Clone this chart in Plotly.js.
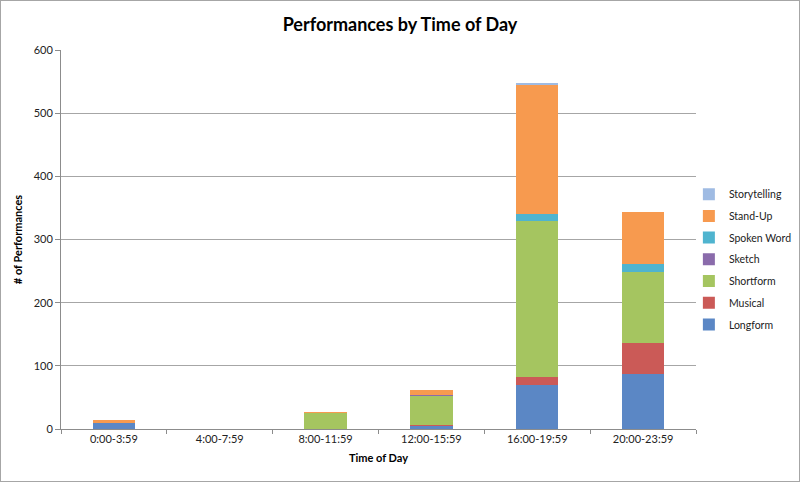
<!DOCTYPE html>
<html>
<head>
<meta charset="utf-8">
<script src="https://cdn.plot.ly/plotly-3.0.1.min.js"></script>
<style>
html,body{margin:0;padding:0;background:#fff;}
#chart{width:800px;height:482px;box-sizing:border-box;border:1px solid #a6a6a6;}
</style>
</head>
<body>
<div id="chart"></div>
<script>
const categories = ["0:00-3:59","4:00-7:59","8:00-11:59","12:00-15:59","16:00-19:59","20:00-23:59"];
const longform     = [9, 0, 0, 5, 69, 87];
const musical      = [0, 0, 0, 1, 14, 49];
const shortform    = [1, 0, 26, 47, 247, 113];
const sketch       = [0, 0, 0, 1, 0, 0];
const spokenWord   = [0, 0, 0, 0, 10, 12];
const standUp      = [4, 0, 1, 7, 204, 83];
const storytelling = [0, 0, 0, 0, 3, 0];

const seriesNames = ["Longform","Musical","Shortform","Sketch","Spoken Word","Stand-Up","Storytelling"];
const seriesData  = [longform, musical, shortform, sketch, spokenWord, standUp, storytelling];
const seriesColors = ["#5b87c5","#cb5a57","#a5c560","#8a6bab","#4fb4cf","#f79a4f","#9fbbe3"];

const traces = seriesNames.map((n,i)=>({
  type:"bar", name:n, x:categories, y:seriesData[i],
  legendgroup:"g"+i, legendrank: 1000 - i,
  marker:{color:seriesColors[i], line:{width:0}},
  hoverinfo:"x+y+name"
}));

const font = "Lato, 'Open Sans', sans-serif";
const layout = {
  width:798, height:480,
  barmode:"stack", bargap:0.6,
  paper_bgcolor:"#fff", plot_bgcolor:"#fff",
  margin:{l:60, r:103, t:49, b:52, autoexpand:false},
  title:{text:"<b>Performances by Time of Day</b>", x:0.5, xanchor:"center", y:0.95, yanchor:"middle",
         font:{family:font, size:18, color:"#000"}},
  font:{family:font, size:11, color:"#222"},
  xaxis:{
    title:{text:"<b>Time of Day</b>", font:{family:font, size:11, color:"#000"}, standoff:10},
    showline:true, linecolor:"#8c8c8c", linewidth:1,
    ticks:"outside", tickson:"boundaries", ticklen:4, tickcolor:"#8c8c8c",
    showgrid:false, tickfont:{size:11, color:"#222"}
  },
  yaxis:{
    title:{text:"<b># of Performances</b>", font:{family:font, size:11, color:"#000"}, standoff:8},
    range:[0,600], dtick:100, tick0:0,
    showline:true, linecolor:"#8c8c8c", linewidth:1,
    ticks:"outside", ticklen:5, tickcolor:"#8c8c8c",
    showgrid:true, gridcolor:"#a6a6a6", gridwidth:1,
    zeroline:false, tickfont:{size:11, color:"#222"}
  },
  legend:{xref:"container", yref:"container", x:0.862, xanchor:"left", y:0.461, yanchor:"middle",
          traceorder:"grouped",
          font:{family:font, size:10.5, color:"#222"}, itemwidth:30, tracegroupgap:2.7,
          bgcolor:"rgba(0,0,0,0)"},
  showlegend:true
};

Plotly.newPlot("chart", traces, layout, {displayModeBar:false, staticPlot:true});
</script>
</body>
</html>
